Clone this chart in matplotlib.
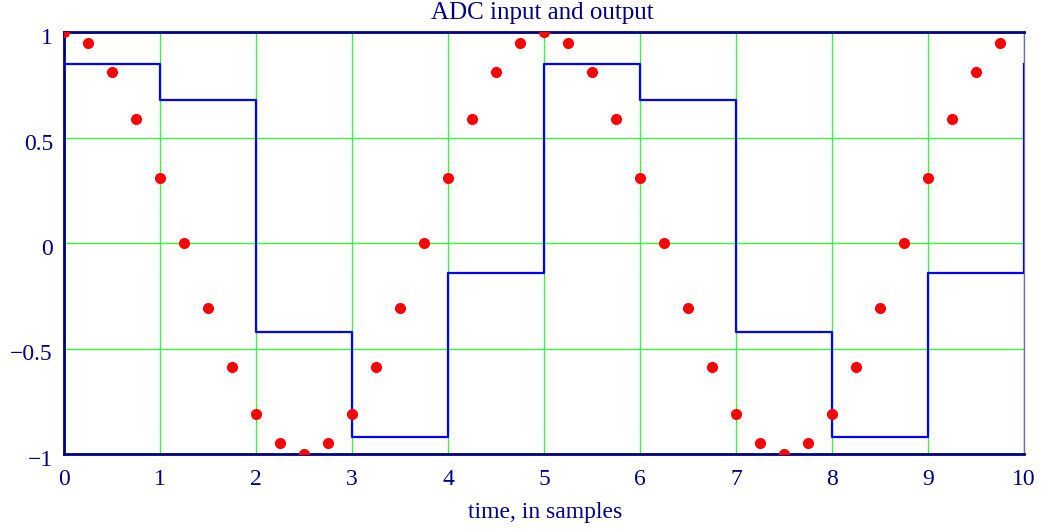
#!/usr/bin/env python3
"""ADC input (sampled cosine) and output (held samples), Mathcad style."""

import numpy as np
import matplotlib
matplotlib.use("Agg")
import matplotlib.pyplot as plt
from matplotlib.transforms import ScaledTranslation

NAVY = "#000080"
GRID = "#40f040"

# input signal, read at every quarter sample
input_t = np.arange(41) * 0.25
input_v = [
    1.00, 0.95, 0.81, 0.59, 0.31, 0.00, -0.31, -0.59, -0.81, -0.95,
    -1.00, -0.95, -0.81, -0.59, -0.31, 0.00, 0.31, 0.59, 0.81, 0.95,
    1.00, 0.95, 0.81, 0.59, 0.31, 0.00, -0.31, -0.59, -0.81, -0.95,
    -1.00, -0.95, -0.81, -0.59, -0.31, 0.00, 0.31, 0.59, 0.81, 0.95,
    1.00,
]

# ADC output, held from each sample to the next
output_t = np.arange(11)
output_v = [0.85, 0.68, -0.42, -0.92, -0.14, 0.85, 0.68, -0.42, -0.92, -0.14, 0.85]

x_ticks = np.arange(11)
y_ticks = [-1, -0.5, 0, 0.5, 1]
y_labels = ["\u22121", "\u22120.5", "0", "0.5", "1"]


def main():
    plt.rcParams["font.family"] = ["Liberation Serif", "DejaVu Serif"]
    fig = plt.figure(figsize=(10.42, 5.29), dpi=100)
    ax = fig.add_axes([64 / 1042, 1 - 454 / 529, 960 / 1042, 422 / 529])

    ax.step(output_t, output_v, where="post", color="#0000ff", lw=1.6, zorder=3)
    # the last input sample sits under the right frame, so it is left out
    ax.plot(input_t, input_v[:40] + [np.nan], "o", color="#ff0000", ms=8,
            mec="none", zorder=4)

    ax.set_xlim(0, 10)
    ax.set_ylim(-1, 1)
    ax.set_xticks(x_ticks)
    ax.set_yticks(y_ticks)
    ax.set_yticklabels(y_labels)
    ax.tick_params(length=0, labelsize=17, labelcolor=NAVY)
    ax.tick_params(axis="x", pad=11)
    ax.tick_params(axis="y", pad=8)
    shift = ScaledTranslation(0, -4 / 100, fig.dpi_scale_trans)
    for tick in ax.yaxis.get_major_ticks():
        tick.label1.set_transform(tick.label1.get_transform() + shift)
    ax.grid(True, color=GRID, lw=1)
    ax.set_axisbelow(True)

    for side in ["left", "bottom", "top"]:
        ax.spines[side].set_color(NAVY)
        ax.spines[side].set_linewidth(2)
    ax.spines["right"].set_color("#7070b0")
    ax.spines["right"].set_linewidth(1)

    fig.text(542 / 1042, 1 - 19 / 529, "ADC input and output", fontsize=18,
             color=NAVY, ha="center", va="baseline")
    fig.text(545 / 1042, 1 - 518 / 529, "time, in samples", fontsize=17,
             color=NAVY, ha="center", va="baseline")

    fig.savefig("out.png", dpi=100)


if __name__ == "__main__":
    main()
